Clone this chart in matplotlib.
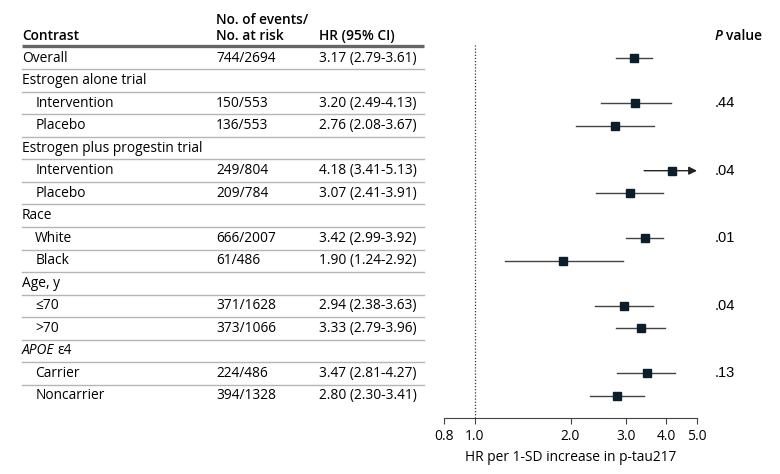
import matplotlib
matplotlib.use('Agg')
import matplotlib.pyplot as plt
from matplotlib.transforms import blended_transform_factory, offset_copy

plt.rcParams['font.family'] = ['Open Sans', 'DejaVu Sans']

# Данные таблицы (строки сверху вниз)
labels = ['Overall', 'Estrogen alone trial', 'Intervention', 'Placebo',
          'Estrogen plus progestin trial', 'Intervention', 'Placebo',
          'Race', 'White', 'Black', 'Age, y', '≤70', '>70',
          'APOE ε4', 'Carrier', 'Noncarrier']
indent = [0, 0, 1, 1, 0, 1, 1, 0, 1, 1, 0, 1, 1, 0, 1, 1]
events = ['744/2694', '', '150/553', '136/553', '', '249/804', '209/784',
          '', '666/2007', '61/486', '', '371/1628', '373/1066',
          '', '224/486', '394/1328']
hr = [3.17, None, 3.20, 2.76, None, 4.18, 3.07, None, 3.42, 1.90,
      None, 2.94, 3.33, None, 3.47, 2.80]
lo = [2.79, None, 2.49, 2.08, None, 3.41, 2.41, None, 2.99, 1.24,
      None, 2.38, 2.79, None, 2.81, 2.30]
hi = [3.61, None, 4.13, 3.67, None, 5.13, 3.91, None, 3.92, 2.92,
      None, 3.63, 3.96, None, 4.27, 3.41]
pvals = {2: '.44', 5: '.04', 8: '.01', 11: '.04', 14: '.13'}

xticks = [0.8, 1.0, 2.0, 3.0, 4.0, 5.0]
xmin, xmax = 0.8, 5.0

dark = '#0b1e2b'
fig = plt.figure(figsize=(7.8, 4.74), dpi=100)
renderer = fig.canvas.get_renderer()

top, bottom = 1 - 45 / 474, 1 - 418 / 474
ytop, ybot = -0.58, 15.98
yhead = -0.78

# Таблица слева
tab = fig.add_axes([22 / 780, bottom, (424 - 22) / 780, top - bottom])
tab.set_xlim(0, 1)
tab.set_ylim(ybot, ytop)
tab.axis('off')

c1, c2, c3 = 0.0, (216 - 22) / 402, (319 - 22) / 402
fs = 9.9
tab.text(c1, yhead, 'Contrast', fontsize=fs, fontweight='semibold', va='baseline')
tab.text(c2, yhead, 'No. of events/\nNo. at risk', fontsize=fs, fontweight='semibold',
         va='baseline', linespacing=1.2)
tab.text(c3, yhead, 'HR (95% CI)', fontsize=fs, fontweight='semibold', va='baseline')
tab.plot([0, 1], [-0.53, -0.53], color='#666666', lw=2.4, clip_on=False,
         solid_capstyle='butt')

for i, lab in enumerate(labels):
    x = c1 + 0.033 * indent[i]
    if lab == 'APOE ε4':
        t = tab.text(x, i, 'APOE', fontsize=fs, style='italic', va='center')
        w = t.get_window_extent(renderer).width
        tab.text(x, i, 'ε4', fontsize=fs, va='center',
                 transform=offset_copy(tab.transData, fig=fig, x=w + 3, units='dots'))
    else:
        tab.text(x, i, lab, fontsize=fs, va='center')
    if events[i]:
        tab.text(c2, i, events[i], fontsize=fs, va='center')
        tab.text(c3, i, f'{hr[i]:.2f} ({lo[i]:.2f}-{hi[i]:.2f})', fontsize=fs, va='center')
    if i < len(labels) - 1:
        tab.plot([0, 1], [i + 0.5, i + 0.5], color='#b5b5b5', lw=1, clip_on=False)

# Лесной график справа
ax = fig.add_axes([444 / 780, bottom, (697 - 444) / 780, top - bottom])
ax.set_xscale('log')
ax.set_xlim(xmin, xmax)
ax.set_ylim(ybot, ytop)
ax.axvline(1.0, color='#333333', lw=0.9, ls=(0, (1, 1.5)))

for i in range(len(labels)):
    if hr[i] is None:
        continue
    if hi[i] > xmax:
        ax.annotate('', xy=(xmax, i), xytext=(lo[i], i),
                    arrowprops=dict(arrowstyle='-|>', color='#222222', lw=1,
                                    mutation_scale=12, shrinkA=0, shrinkB=0))
    else:
        ax.plot([lo[i], hi[i]], [i, i], color='#444444', lw=1)
    ax.plot(hr[i], i, marker='s', ms=5.5, color=dark, zorder=3)

for s in ['top', 'right', 'left']:
    ax.spines[s].set_visible(False)
ax.spines['bottom'].set_color('#444444')
ax.set_yticks([])
ax.set_xticks(xticks)
ax.set_xticklabels([f'{t:.1f}' for t in xticks])
ax.minorticks_off()
ax.tick_params(axis='x', labelsize=fs, length=4, color='#444444', pad=4)
ax.set_xlabel('HR per 1-SD increase in p-tau217', fontsize=fs, labelpad=4)

# P-значения
tr = blended_transform_factory(fig.transFigure, ax.transData)
tp = fig.text(715 / 780, yhead, 'P', fontsize=fs, fontweight='semibold', style='italic',
              va='baseline', transform=tr)
wp = tp.get_window_extent(renderer).width
fig.text(715 / 780, yhead, 'value', fontsize=fs, fontweight='semibold', va='baseline',
         transform=offset_copy(tr, fig=fig, x=wp + 3, units='dots'))
for i, p in pvals.items():
    fig.text(715 / 780, i, p, fontsize=10.5, family='Liberation Sans', va='center',
             transform=tr)

fig.savefig('out.png', dpi=100)
